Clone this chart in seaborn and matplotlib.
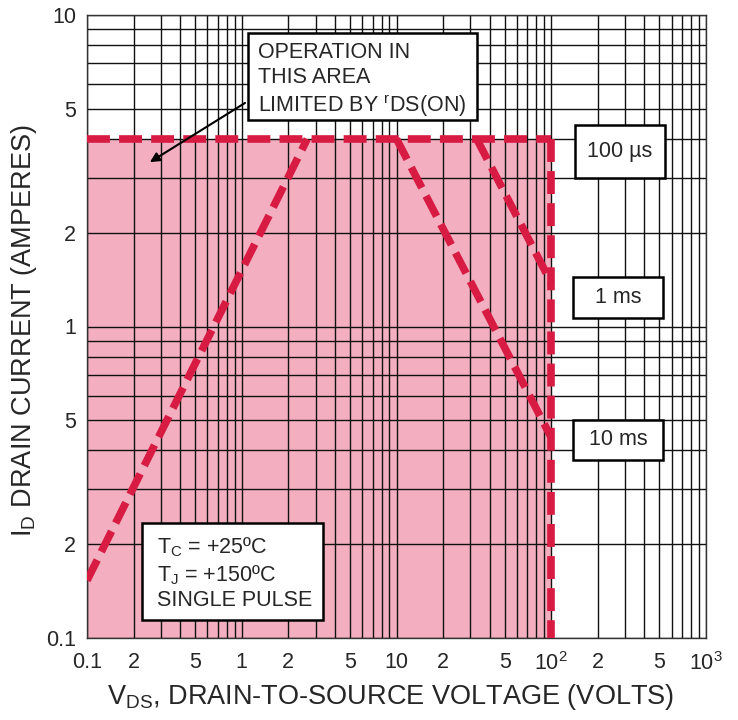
import matplotlib
matplotlib.use("Agg")
import matplotlib.pyplot as plt
from matplotlib.patches import Rectangle
from matplotlib.ticker import LogLocator, NullFormatter
import seaborn as sns

# safe operating area boundaries (volts, amperes)
rds_v = [0.1, 2.65]
rds_i = [0.153, 4.0]
top_v = [0.1, 100]
top_i = [4.0, 4.0]
vmax_v = [100, 100]
vmax_i = [4.0, 0.1]
ms1_v = [33, 100]
ms1_i = [4.0, 1.38]
ms10_v = [10, 100]
ms10_i = [4.0, 0.44]

x_ticks = [0.1, 0.2, 0.5, 1, 2, 5, 10, 20, 50, 100, 200, 500, 1000]
x_tick_labels = ["0.1", "2", "5", "1", "2", "5", "10", "2", "5",
                 r"$\mathregular{10^2}$", "2", "5", r"$\mathregular{10^3}$"]
y_ticks = [0.1, 0.2, 0.5, 1, 2, 5, 10]
y_tick_labels = ["0.1", "2", "5", "1", "2", "5", "10"]

pink = "#f3afbf"
red = "#d81b43"

sns.set_style("white")
plt.rcParams['font.family'] = ['Liberation Sans', 'DejaVu Sans']
plt.rcParams['mathtext.fontset'] = 'custom'
plt.rcParams['mathtext.rm'] = 'Liberation Sans'

fig = plt.figure(figsize=(7.38, 7.2), dpi=100)
ax = fig.add_axes([87/738, 82/720, 619/738, 623/720])
ax.set_xscale('log')
ax.set_yscale('log')
ax.set_xlim(0.1, 1000)
ax.set_ylim(0.1, 10)

ax.fill_between(top_v, [0.1, 0.1], top_i, color=pink, lw=0, zorder=0)

ax.xaxis.set_minor_locator(LogLocator(base=10, subs=range(2, 10)))
ax.yaxis.set_minor_locator(LogLocator(base=10, subs=range(2, 10)))
ax.xaxis.set_minor_formatter(NullFormatter())
ax.yaxis.set_minor_formatter(NullFormatter())
ax.set_xticks(x_ticks, x_tick_labels)
ax.set_yticks(y_ticks, y_tick_labels)
ax.grid(True, which='both', color='#111111', lw=1.0)
ax.tick_params(which='both', length=0, labelsize=15.5)
ax.tick_params(axis='x', pad=10)
ax.tick_params(axis='y', pad=8)
for s in ax.spines.values():
    s.set_color('#333333')
    s.set_linewidth(1.0)

for v, i in [(rds_v, rds_i), (top_v, top_i), (vmax_v, vmax_i),
             (ms1_v, ms1_i), (ms10_v, ms10_i)]:
    sns.lineplot(x=v, y=i, ax=ax, color=red, lw=5.5, estimator=None, sort=False,
                 linestyle=(0, (3, 1.2)), zorder=3)

# annotation boxes (axes fraction)
boxes = [(0.260, 0.831, 0.370, 0.140), (0.788, 0.738, 0.145, 0.085),
         (0.785, 0.514, 0.145, 0.066), (0.785, 0.286, 0.145, 0.064),
         (0.089, 0.029, 0.292, 0.156)]
for x0, y0, w, h in boxes:
    ax.add_patch(Rectangle((x0, y0), w, h, transform=ax.transAxes,
                           facecolor='white', edgecolor='black', lw=1.8, zorder=5))

ax.text(0.276, 0.895, "OPERATION IN\nTHIS AREA\nLIMITED BY $\\mathregular{^r}$DS(ON)",
        transform=ax.transAxes, ha='left', va='center', fontsize=15.5,
        linespacing=1.25, zorder=6)
ax.text(0.861, 0.781, "100 µs", transform=ax.transAxes, ha='center', va='center',
        fontsize=15.5, zorder=6)
ax.text(0.858, 0.547, "1 ms", transform=ax.transAxes, ha='center', va='center',
        fontsize=15.5, zorder=6)
ax.text(0.858, 0.318, "10 ms", transform=ax.transAxes, ha='center', va='center',
        fontsize=15.5, zorder=6)
ax.text(0.113, 0.104,
        "T$_\\mathregular{C}$ = +25ºC\nT$_\\mathregular{J}$ = +150ºC\nSINGLE PULSE",
        transform=ax.transAxes, ha='left', va='center', fontsize=15.5,
        linespacing=1.2, zorder=6)

ax.annotate("", xy=(0.255, 3.37), xytext=(1.05, 5.22),
            arrowprops=dict(arrowstyle='-|>', color='black', lw=1.5,
                            mutation_scale=14, shrinkA=0, shrinkB=0), zorder=6)

ax.set_xlabel(r"V$_\mathregular{DS}$, DRAIN-TO-SOURCE VOLTAGE (VOLTS)", fontsize=19.5)
ax.set_ylabel(r"I$_\mathregular{D}$ DRAIN CURRENT (AMPERES)", fontsize=19.5)
ax.xaxis.set_label_coords(0.49, -0.071)
ax.yaxis.set_label_coords(-0.078, 0.494)

fig.savefig("out.png", dpi=100)
